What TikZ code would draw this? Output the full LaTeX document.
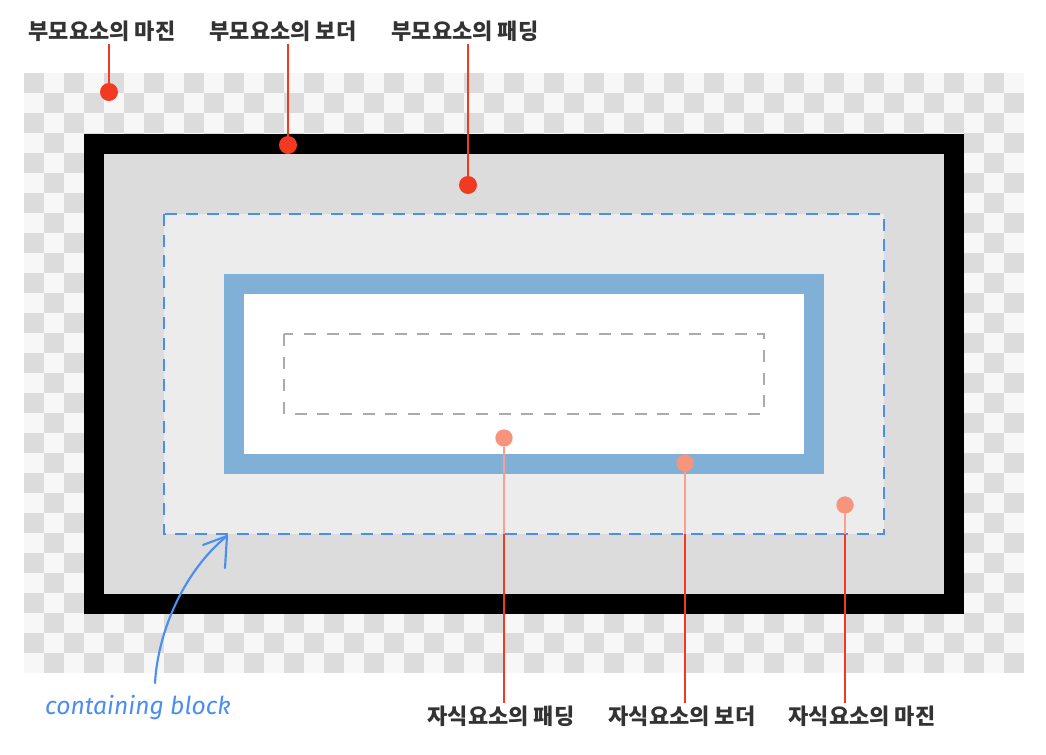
\documentclass[tikz,border=0pt]{standalone}
\usepackage{fontspec}
\newfontfamily\kr{Noto Sans CJK KR}
\newfontfamily\hand{Fira Sans}
\usetikzlibrary{calc}
\definecolor{chkdark}{HTML}{DCDCDC}
\definecolor{chklight}{HTML}{F7F7F7}
\definecolor{padgray}{HTML}{DCDCDC}
\definecolor{cbgray}{HTML}{ECECEC}
\definecolor{cbblue}{HTML}{4A8EF0}
\definecolor{kidblue}{HTML}{80B0D6}
\definecolor{dotred}{HTML}{F23A22}
\definecolor{dotpink}{HTML}{F7947E}
\definecolor{linepink}{HTML}{FB9F8E}
\definecolor{labelgray}{HTML}{333333}

\begin{document}
\begin{tikzpicture}[x=0.75pt, y=-0.75pt,
	lbl/.style={font=\kr\bfseries\fontsize{16.5}{20}\selectfont, text=labelgray, inner sep=2pt},
	reddot/.style={circle, fill=dotred, minimum size=13.5pt, inner sep=0pt},
	pinkdot/.style={circle, fill=dotpink, minimum size=13pt, inner sep=0pt},
	pin/.style={line width=1.2pt, draw=dotred},
	pinlight/.style={line width=1.2pt, draw=linepink}]
		%%%%% START %%%%%
		\useasboundingbox (0,0) rectangle (1046,754);
		
		% checker board
		\fill[chklight] (24,73) rectangle (1024,673);
		\foreach \i in {0,...,49}
			\foreach \j in {0,2,...,28}
				\fill[chkdark] ({24+20*\i}, {73+20*(\j+mod(\i,2))}) rectangle ++(20,20);
		
		% parent box
		\draw[line width=15pt, fill=padgray] (94,144) rectangle (954,604);
		\draw[draw=cbblue, fill=cbgray, line width=1.5pt, dash pattern=on 9pt off 6.5pt] (164,214) rectangle (884,534);
		\coordinate (cbbot) at (0,534);
		
		% child box
		\draw[kidblue, line width=15pt, fill=white] (234,284) rectangle (814,464);
		\draw[color=black!33, line width=1.5pt, dash pattern=on 9pt off 8pt] (284,334) rectangle (764,414);
		
		% parent labels
		\node[lbl] (pm) at (102,31) {부모요소의 마진};
		\node[lbl] (pb) at (283,31) {부모요소의 보더};
		\node[lbl] (pp) at (465,31) {부모요소의 패딩};
		\node[reddot] (pmdot) at (109,92) {};
		\node[reddot] (pbdot) at (288,145) {};
		\node[reddot] (ppdot) at (468,185) {};
		\draw[pin] (pmdot |- pm.south) -- (pmdot.north);
		\draw[pin] (pbdot |- pb.south) -- (pbdot.north);
		\draw[pin] (ppdot |- pp.south) -- (ppdot.north);
		
		% child labels
		\node[lbl] (cp) at (501,716) {자식요소의 패딩};
		\node[lbl] (cbd) at (682,716) {자식요소의 보더};
		\node[lbl] (cm) at (862,716) {자식요소의 마진};
		\node[pinkdot] (cpdot) at (504,438) {};
		\node[pinkdot] (cbdot) at (685,463) {};
		\node[pinkdot] (cmdot) at (845,505) {};
		\draw[pinlight] (cpdot.south) -- (cpdot |- cbbot);
		\draw[pin] (cpdot |- cbbot) -- (cpdot |- cp.north);
		\draw[pinlight] (cbdot.south) -- (cbdot |- cbbot);
		\draw[pin] (cbdot |- cbbot) -- (cbdot |- cbd.north);
		\draw[pinlight] (cmdot.south) -- (cmdot |- cbbot);
		\draw[pin] (cmdot |- cbbot) -- (cmdot |- cm.north);
		
		% containing block
		\node[font=\hand\itshape\fontsize{18.5}{22}\selectfont, text=cbblue] (cbl) at (138,708) {containing block};
		\coordinate (cbfoot) at (155,683);
		\coordinate (cbtip) at (227,536);
		\draw[cbblue, line width=1.6pt, line cap=round] (cbfoot) .. controls (158,630) and (185,570) .. (cbtip);
		\draw[cbblue, line width=1.6pt, line cap=round] (cbtip) -- ++(-24,9);
		\draw[cbblue, line width=1.6pt, line cap=round] (cbtip) -- ++(-2,32);
		
		%%%%% END %%%%%
\end{tikzpicture}
\end{document}
